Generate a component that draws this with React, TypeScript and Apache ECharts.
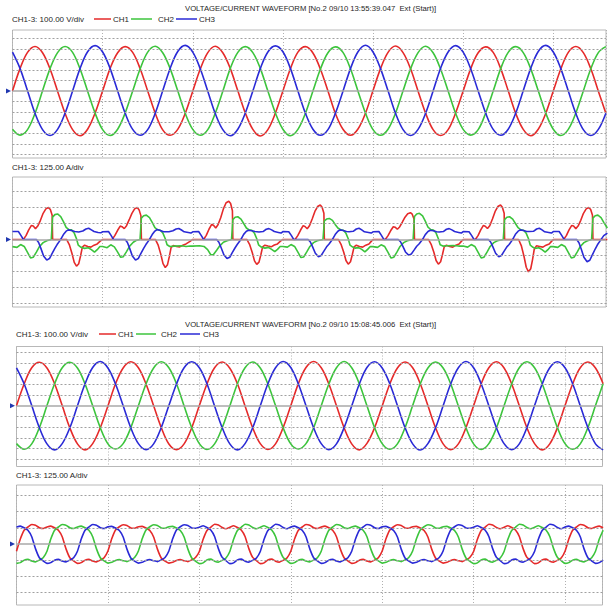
import React, { useEffect, useRef } from "react";
import * as echarts from "echarts";

// ---------- text ----------
const TITLE_1 = "VOLTAGE/CURRENT WAVEFORM [No.2 09/10 13:55:39.047  Ext (Start)]";
const TITLE_2 = "VOLTAGE/CURRENT WAVEFORM [No.2 09/10 15:08:45.006  Ext (Start)]";
const V_LABEL = "CH1-3: 100.00 V/div";
const A_LABEL = "CH1-3: 125.00 A/div";
const CHANNELS = ["CH1", "CH2", "CH3"];
const COLORS = ["#e52a2a", "#3cc43c", "#2a2ad6"];

// ---------- scales ----------
const V_DIV = 100; // V per division
const A_DIV = 125; // A per division
const MS_DIV = 20; // ms per division
const P1_MAX_MS = 131.7;
const P3_MAX_MS = 128.2;
const V_STEP = 20 / 12; // voltage samples every 1.667 ms
const I4_STEP = 20 / 24; // record 2 current samples every 0.833 ms

// ---------- record 1 voltage (V) ----------
const p1Ch1 = [
  0, 212, 366, 422, 362, 208, -2, -212, -366, -424, -362, -208,
  2, 214, 362, 420, 366, 210, 0, -210, -368, -420, -364, -212,
  -2, 208, 364, 424, 362, 212, 2, -208, -364, -426, -366, -210,
  0, 210, 368, 420, 360, 206, 0, -214, -362, -420, -360, -210,
  4, 212, 366, 426, 364, 210, -2, -210, -366, -422, -366, -208,
  0, 210, 362, 418, 366, 212, 2, -212, -364, -424, -362, -212,
  0, 208, 366, 422, 364, 210, -2, -210,
];
const p1Ch2 = [
  -362, -418, -366, -212, 2, 212, 364, 422, 366, 208, -2, -210,
  -366, -422, -362, -208, 0, 210, 368, 424, 362, 210, 2, -212,
  -364, -420, -366, -210, -2, 214, 366, 420, 364, 212, 0, -208,
  -362, -424, -364, -212, 0, 208, 362, 418, 366, 210, -2, -210,
  -366, -420, -362, -210, 2, 210, 364, 424, 362, 206, 0, -212,
  -364, -418, -366, -208, 0, 212, 366, 420, 364, 210, 2, -210,
  -362, -422, -364, -210, 0, 210, 364, 420,
];
const p1Ch3 = [
  368, 214, 2, -212, -366, -422, -364, -210, 0, 214, 372, 430,
  370, 212, 0, -210, -364, -420, -366, -212, 2, 216, 374, 432,
  368, 210, -2, -214, -366, -424, -362, -208, 0, 214, 370, 428,
  372, 214, 0, -210, -362, -420, -366, -210, -2, 212, 372, 434,
  370, 212, 2, -212, -366, -422, -364, -212, 0, 216, 370, 430,
  368, 210, 0, -210, -364, -420, -362, -210, 2, 214, 374, 432,
  370, 212, 0, -212, -366, -422, -364, -210,
];

// ---------- record 1 current (ms, A) ----------
const p2Ch1 = [
  [0, 0], [2.4, 0], [3.0, 30], [3.6, 75], [4.2, 110], [4.6, 105], [5.1, 85], [5.6, 105], [6.2, 150], [6.8, 205], [7.4, 240], [8.0, 250], [8.4, 235], [8.8, 190], [8.9, 0], [12.0, 0], [12.6, -40], [13.2, -110], [13.7, -180], [14.2, -210], [14.7, -190], [15.1, -130], [15.5, -60], [16.0, -45], [16.7, -55], [17.4, -60], [18.1, -45], [18.8, -35], [19.4, -15],
  [20, 0], [22.1, 0], [22.7, 30], [23.3, 70], [23.9, 105], [24.3, 100], [24.8, 85], [25.3, 108], [25.9, 155], [26.5, 205], [27.1, 240], [27.7, 250], [28.1, 232], [28.5, 185], [28.6, 0], [31.7, 0], [32.3, -42], [32.9, -115], [33.4, -190], [33.9, -220], [34.4, -198], [34.8, -135], [35.2, -62], [35.7, -48], [36.4, -55], [37.1, -58], [37.8, -45], [38.5, -35], [39.4, -15],
  [40, 0], [42.4, 0], [43.0, 32], [43.6, 80], [44.2, 118], [44.6, 112], [45.1, 90], [45.6, 115], [46.2, 170], [46.8, 240], [47.4, 288], [48.0, 300], [48.4, 282], [48.8, 225], [48.9, 0], [52.0, 0], [52.6, -38], [53.2, -102], [53.7, -168], [54.2, -196], [54.7, -178], [55.1, -122], [55.5, -58], [56.0, -45], [56.7, -52], [57.4, -58], [58.1, -44], [58.8, -35], [59.4, -15],
  [60, 0], [62.7, 0], [63.3, 30], [63.9, 72], [64.5, 108], [64.9, 102], [65.4, 84], [65.9, 108], [66.5, 160], [67.1, 220], [67.7, 258], [68.3, 270], [68.7, 252], [69.1, 205], [69.2, 0], [72.3, 0], [72.9, -38], [73.5, -100], [74.0, -165], [74.5, -194], [75.0, -175], [75.4, -120], [75.8, -58], [76.3, -45], [77.0, -55], [77.7, -60], [78.4, -45], [79.1, -35], [79.6, -15],
  [80, 0], [82.7, 0], [83.3, 28], [83.9, 68], [84.5, 100], [84.9, 96], [85.4, 80], [85.9, 98], [86.5, 135], [87.1, 175], [87.7, 202], [88.3, 210], [88.7, 198], [89.1, 160], [89.2, 0], [92.3, 0], [92.9, -38], [93.5, -100], [94.0, -165], [94.5, -194], [95.0, -175], [95.4, -120], [95.8, -58], [96.3, -45], [97.0, -55], [97.7, -60], [98.4, -45], [99.1, -35], [99.6, -15],
  [100, 0], [102.7, 0], [103.3, 30], [103.9, 75], [104.5, 110], [104.9, 104], [105.4, 86], [105.9, 108], [106.5, 160], [107.1, 220], [107.7, 258], [108.3, 270], [108.7, 252], [109.1, 205], [109.2, 0], [112.3, 0], [112.9, -48], [113.5, -132], [114.0, -218], [114.5, -254], [115.0, -230], [115.4, -158], [115.8, -72], [116.3, -50], [117.0, -55], [117.7, -60], [118.4, -45], [119.1, -35], [119.6, -15],
  [120, 0], [122.3, 0], [122.9, 30], [123.5, 75], [124.1, 110], [124.5, 105], [125.0, 85], [125.5, 105], [126.1, 150], [126.7, 205], [127.3, 240], [127.9, 250], [128.3, 235], [128.7, 190], [128.8, 0], [132, 0],
];
const p2Ch2 = [
  [0, -56], [1.0, -62], [1.8, -40], [2.6, -55], [3.3, -100], [4.0, -145], [4.6, -140], [5.3, -100], [6.0, -55], [6.8, -25], [7.6, -10], [8.6, 0], [8.9, 175], [9.4, 195], [10.0, 200], [10.7, 180], [11.3, 140], [11.9, 95], [12.5, 78], [13.1, 75], [13.7, 50], [14.2, 6], [14.6, -45], [15.2, -62], [16, -70], [16.8, -65], [17.5, -80], [18.2, -100], [18.8, -80], [19.4, -55],
  [20, -55], [21.0, -65], [21.8, -42], [22.6, -58], [23.3, -98], [24.0, -140], [24.6, -135], [25.3, -95], [26.0, -52], [26.8, -22], [27.4, -8], [28.3, 0], [28.6, 167], [29.1, 186], [29.7, 191], [30.4, 172], [31.0, 134], [31.6, 92], [32.2, 76], [32.8, 72], [33.4, 48], [33.9, 5], [34.3, -42], [34.9, -55], [36, -52], [37.5, -50], [38.5, -55], [39.4, -52],
  [40, -52], [41.5, -50], [42.5, -55], [43.3, -80], [44.0, -120], [44.6, -118], [45.3, -85], [46.0, -50], [46.8, -22], [47.6, -10], [48.6, 0], [48.9, 156], [49.4, 174], [50.0, 178], [50.7, 160], [51.3, 125], [51.9, 90], [52.5, 75], [53.1, 72], [53.7, 48], [54.2, 6], [54.6, -42], [55.2, -60], [56, -68], [56.8, -62], [57.5, -78], [58.2, -96], [58.8, -78], [59.4, -55],
  [60, -55], [61.0, -60], [61.8, -40], [62.6, -55], [63.3, -98], [64.0, -142], [64.6, -138], [65.3, -98], [66.0, -55], [66.8, -25], [67.6, -10], [68.9, 0], [69.2, 145], [69.7, 160], [70.3, 165], [71.0, 150], [71.6, 118], [72.2, 90], [72.8, 76], [73.4, 72], [74.0, 48], [74.5, 6], [74.9, -45], [75.5, -60], [76, -68], [76.8, -64], [77.5, -78], [78.2, -98], [78.8, -78], [79.4, -55],
  [80, -56], [81.0, -62], [81.8, -42], [82.6, -56], [83.3, -100], [84.0, -146], [84.6, -140], [85.3, -100], [86.0, -55], [86.8, -25], [87.6, -10], [88.9, 0], [89.2, 180], [89.7, 200], [90.3, 205], [91.0, 185], [91.6, 144], [92.2, 96], [92.8, 78], [93.4, 74], [94.0, 50], [94.5, 6], [94.9, -42], [95.5, -52], [96.5, -50], [97.8, -48], [99, -52],
  [100, -52], [101.0, -60], [101.8, -40], [102.6, -55], [103.3, -100], [104.0, -145], [104.6, -140], [105.3, -100], [106.0, -55], [106.8, -25], [107.6, -10], [108.9, 0], [109.2, 156], [109.7, 174], [110.3, 178], [111.0, 160], [111.6, 125], [112.2, 92], [112.8, 76], [113.4, 72], [114.0, 48], [114.5, 6], [114.9, -45], [115.5, -62], [116, -70], [116.8, -65], [117.5, -80], [118.2, -100], [118.8, -80], [119.4, -55],
  [120, -56], [121.0, -62], [121.8, -40], [122.6, -55], [123.3, -100], [124.0, -145], [124.6, -140], [125.3, -100], [126.0, -55], [126.8, -25], [127.6, -10], [128.5, 0], [128.8, 167], [129.3, 186], [129.9, 191], [130.6, 172], [131.2, 134], [132, 90],
];
const p2Ch3 = [
  [0, 62], [1.3, 62], [1.9, 30], [2.4, 0], [5.3, 0], [5.8, -24], [6.3, -70], [6.9, -130], [7.6, -162], [8.2, -150], [8.8, -110], [9.4, -70], [9.9, -40], [10.6, -5], [11.3, 38], [11.9, 65], [12.4, 75], [13.1, 70], [13.8, 62], [14.7, 58], [15.6, 66], [16.3, 82], [16.9, 88], [17.5, 75], [18.1, 62], [19.0, 55], [19.6, 52],
  [20, 60], [21.3, 62], [21.9, 30], [22.4, 0], [25.0, 0], [25.5, -24], [26.0, -70], [26.6, -130], [27.3, -162], [27.9, -150], [28.5, -110], [29.1, -70], [29.6, -40], [30.3, -5], [31.0, 38], [31.6, 66], [32.1, 78], [32.8, 70], [33.5, 60], [34.7, 60], [35.6, 68], [36.3, 82], [36.9, 86], [37.5, 74], [38.1, 60], [39.0, 55], [39.6, 50],
  [40, 60], [41.3, 62], [41.9, 30], [42.4, 0], [45.3, 0], [45.8, -22], [46.3, -65], [46.9, -120], [47.6, -150], [48.2, -140], [48.8, -102], [49.4, -65], [49.9, -38], [50.6, -5], [51.3, 40], [51.9, 64], [52.4, 72], [53.1, 68], [53.8, 62], [54.7, 58], [55.6, 62], [56.3, 80], [56.9, 85], [57.5, 75], [58.1, 62], [59.0, 55], [59.6, 50],
  [60, 62], [61.3, 60], [61.9, 30], [62.4, 0], [65.6, 0], [66.1, -20], [66.6, -58], [67.2, -108], [67.9, -136], [68.5, -126], [69.1, -92], [69.7, -58], [70.2, -38], [70.9, -5], [71.6, 38], [72.2, 64], [72.7, 75], [73.4, 70], [74.1, 62], [74.7, 60], [75.6, 64], [76.3, 82], [76.9, 88], [77.5, 75], [78.1, 60], [79.0, 55], [79.6, 50],
  [80, 60], [81.3, 62], [81.9, 30], [82.4, 0], [85.6, 0], [86.1, -18], [86.6, -53], [87.2, -98], [87.9, -123], [88.5, -114], [89.1, -84], [89.7, -53], [90.2, -36], [90.9, -5], [91.6, 38], [92.2, 62], [92.7, 72], [93.4, 68], [94.1, 60], [94.7, 58], [95.6, 62], [96.3, 80], [96.9, 85], [97.5, 75], [98.1, 62], [99.0, 55], [99.6, 50],
  [100, 62], [101.3, 60], [101.9, 30], [102.4, 0], [105.6, 0], [106.1, -20], [106.6, -58], [107.2, -108], [107.9, -136], [108.5, -126], [109.1, -92], [109.7, -58], [110.2, -40], [110.9, -5], [111.6, 40], [112.2, 65], [112.7, 75], [113.4, 70], [114.1, 62], [114.7, 62], [115.6, 64], [116.3, 82], [116.9, 88], [117.5, 75], [118.1, 60], [119.0, 55], [119.6, 50],
  [120, 62], [121.3, 62], [121.9, 30], [122.4, 0], [125.2, 0], [125.7, -26], [126.2, -75], [126.8, -140], [127.5, -175], [128.1, -163], [128.7, -119], [129.3, -75], [129.8, -42], [130.5, -5], [131.2, 30], [132, 50],
];

// ---------- record 2 voltage (V) ----------
const p3Ch1 = [
  0, 204, 356, 408, 354, 206, 2, -206, -356, -412, -354, -204,
  -2, 206, 354, 412, 356, 204, 0, -204, -358, -410, -356, -206,
  2, 204, 356, 410, 352, 206, -2, -206, -354, -408, -356, -204,
  0, 208, 358, 414, 356, 204, 0, -206, -356, -412, -352, -206,
  -2, 204, 354, 410, 356, 206, 2, -204, -356, -410, -356, -204,
  0, 206, 356, 412, 354, 204, 0, -206, -354, -412, -356, -206,
  2, 204, 356, 410, 354, 206,
];
const p3Ch2 = [
  -354, -406, -356, -204, 2, 206, 356, 408, 354, 204, 0, -206,
  -356, -404, -354, -206, 0, 204, 354, 412, 356, 206, -2, -204,
  -354, -408, -356, -204, -2, 206, 356, 410, 354, 204, 2, -206,
  -356, -404, -354, -206, 0, 204, 356, 414, 356, 206, 0, -204,
  -354, -406, -356, -204, 2, 206, 354, 410, 354, 204, -2, -206,
  -356, -408, -354, -206, 0, 204, 356, 412, 356, 206, 0, -204,
  -354, -406, -356, -204, 2, 206,
];
const p3Ch3 = [
  356, 206, 2, -204, -356, -412, -354, -206, 0, 206, 358, 414,
  354, 204, 0, -206, -354, -410, -356, -204, 2, 204, 356, 412,
  356, 206, -2, -204, -356, -412, -354, -206, 0, 206, 356, 414,
  358, 204, 0, -206, -354, -410, -356, -204, -2, 204, 358, 412,
  354, 206, 2, -204, -356, -414, -354, -206, 0, 206, 356, 414,
  356, 204, 0, -206, -354, -410, -356, -204, 2, 204, 356, 412,
  356, 206, 0, -204, -356, -412,
];

// ---------- record 2 current (A) ----------
const p4Ch1 = [
  -56, 38, 106, 131, 150, 144, 125, 119, 131, 138, 125, 106, 56, -38, -106, -131, -150, -144, -125, -119, -131, -138, -125, -106,
  -54, 40, 108, 133, 148, 142, 123, 121, 133, 136, 123, 104, 54, -40, -108, -133, -148, -142, -127, -121, -129, -136, -123, -104,
  -58, 36, 104, 129, 152, 146, 127, 117, 129, 140, 127, 108, 58, -36, -104, -129, -152, -146, -123, -117, -133, -140, -127, -108,
  -56, 38, 106, 131, 150, 144, 125, 119, 131, 138, 125, 106, 56, -38, -106, -131, -150, -144, -125, -119, -131, -138, -125, -106,
  -54, 40, 108, 133, 148, 142, 123, 121, 133, 136, 123, 104, 54, -40, -108, -133, -148, -142, -127, -121, -129, -136, -123, -104,
  -58, 36, 104, 129, 152, 146, 127, 117, 129, 140, 127, 108, 58, -36, -104, -129, -152, -146, -123, -117, -133, -140, -127, -108,
  -56, 38, 106, 131, 150, 144, 125, 119, 131, 138, 125,
];
const p4Ch2 = [
  -150, -144, -125, -119, -131, -138, -125, -106, -56, 38, 106, 131, 150, 144, 125, 119, 131, 138, 125, 106, 56, -38, -106, -131,
  -148, -142, -127, -121, -129, -136, -123, -104, -54, 40, 108, 133, 148, 142, 123, 121, 133, 136, 123, 104, 54, -40, -108, -133,
  -152, -146, -123, -117, -133, -140, -127, -108, -58, 36, 104, 129, 152, 146, 127, 117, 129, 140, 127, 108, 58, -36, -104, -129,
  -150, -144, -125, -119, -131, -138, -125, -106, -56, 38, 106, 131, 150, 144, 125, 119, 131, 138, 125, 106, 56, -38, -106, -131,
  -148, -142, -127, -121, -129, -136, -123, -104, -54, 40, 108, 133, 148, 142, 123, 121, 133, 136, 123, 104, 54, -40, -108, -133,
  -152, -146, -123, -117, -133, -140, -127, -108, -58, 36, 104, 129, 152, 146, 127, 117, 129, 140, 127, 108, 58, -36, -104, -129,
  -150, -144, -125, -119, -131, -138, -125, -106, -56, 38, 106,
];
const p4Ch3 = [
  131, 138, 125, 106, 56, -38, -106, -131, -150, -144, -125, -119, -131, -138, -125, -106, -56, 38, 106, 131, 150, 144, 125, 119,
  133, 136, 123, 104, 54, -40, -108, -133, -148, -142, -127, -121, -129, -136, -123, -104, -54, 40, 108, 133, 148, 142, 123, 121,
  129, 140, 127, 108, 58, -36, -104, -129, -152, -146, -123, -117, -133, -140, -127, -108, -58, 36, 104, 129, 152, 146, 127, 117,
  131, 138, 125, 106, 56, -38, -106, -131, -150, -144, -125, -119, -131, -138, -125, -106, -56, 38, 106, 131, 150, 144, 125, 119,
  133, 136, 123, 104, 54, -40, -108, -133, -148, -142, -127, -121, -129, -136, -123, -104, -54, 40, 108, 133, 148, 142, 123, 121,
  129, 140, 127, 108, 58, -36, -104, -129, -152, -146, -123, -117, -133, -140, -127, -108, -58, 36, 104, 129, 152, 146, 127, 117,
  131, 138, 125, 106, 56, -38, -106, -131, -150, -144, -125,
];

// ---------- panel layout ----------
const PANELS = [
  { left: 12.5, top: 30, width: 593.5, height: 128, xMax: P1_MAX_MS, yMin: -635, yMax: 578, div: V_DIV },
  { left: 12.5, top: 177, width: 593.5, height: 130, xMax: P1_MAX_MS, yMin: -530, yMax: 490, div: A_DIV },
  { left: 16.5, top: 346.5, width: 586, height: 120, xMax: P3_MAX_MS, yMin: -568, yMax: 555, div: V_DIV },
  { left: 16.5, top: 485, width: 586, height: 120, xMax: P3_MAX_MS, yMin: -471, yMax: 455, div: A_DIV },
];

const FONT = "'Liberation Sans', Arial, sans-serif";
const TEXT_COLOR = "#262626";

function sampled(vals: number[], step: number) {
  return vals.map((v, i) => [i * step, v]);
}

function gridTicks(min: number, max: number, div: number) {
  const out: number[] = [];
  for (let k = Math.ceil(min / div); k * div <= max; k++) {
    if (k !== 0) out.push(k * div);
  }
  return out;
}

function legendGraphics(y: number, pos: number[][]) {
  const els: any[] = [];
  CHANNELS.forEach((name, i) => {
    const [l1, l2, tx] = pos[i];
    els.push({
      type: "line",
      shape: { x1: l1, y1: y, x2: l2, y2: y },
      style: { stroke: COLORS[i], lineWidth: 1.5 },
    });
    els.push({
      type: "text",
      x: tx,
      y,
      style: { text: name, fill: TEXT_COLOR, fontSize: 8, fontFamily: FONT, textVerticalAlign: "middle" },
    });
  });
  return els;
}

function textEl(text: string, x: number, y: number, size: number) {
  return {
    type: "text",
    x,
    y,
    style: { text, fill: TEXT_COLOR, fontSize: size, fontFamily: FONT, textVerticalAlign: "middle" },
  };
}

export default function App() {
  const ref = useRef<HTMLDivElement>(null);

  useEffect(() => {
    if (!ref.current) return;
    const chart = echarts.init(ref.current, undefined, { renderer: "svg" });

    const panelData = [
      [sampled(p1Ch1, V_STEP), sampled(p1Ch2, V_STEP), sampled(p1Ch3, V_STEP)],
      [p2Ch1, p2Ch2, p2Ch3],
      [sampled(p3Ch1, V_STEP), sampled(p3Ch2, V_STEP), sampled(p3Ch3, V_STEP)],
      [sampled(p4Ch1, I4_STEP), sampled(p4Ch2, I4_STEP), sampled(p4Ch3, I4_STEP)],
    ];
    const smoothness = [0.35, false, 0.35, 0.15];

    const grid = PANELS.map((p) => ({
      left: p.left,
      top: p.top,
      width: p.width,
      height: p.height,
      show: true,
      backgroundColor: "#ffffff",
      borderColor: "#b8b8b8",
      borderWidth: 1,
    }));

    const xAxis = PANELS.map((p, i) => ({
      type: "value",
      gridIndex: i,
      min: 0,
      max: p.xMax,
      interval: MS_DIV,
      axisLine: { show: false },
      axisTick: { show: false },
      axisLabel: { show: false },
      splitLine: { show: true, lineStyle: { color: "#b0b0b0", width: 1, type: [1, 2] } },
    }));

    const yAxis = PANELS.map((p, i) => ({
      type: "value",
      gridIndex: i,
      min: p.yMin,
      max: p.yMax,
      axisLine: { show: false },
      axisTick: { show: false },
      axisLabel: { show: false },
      splitLine: { show: false },
    }));

    const series: any[] = [];
    PANELS.forEach((p, i) => {
      series.push({
        type: "line",
        name: "grid" + i,
        xAxisIndex: i,
        yAxisIndex: i,
        data: [],
        silent: true,
        z: 1,
        markLine: {
          silent: true,
          symbol: "none",
          label: { show: false },
          animation: false,
          data: [
            ...gridTicks(p.yMin, p.yMax, p.div).map((v) => ({
              yAxis: v,
              lineStyle: { color: "#a0a0a0", width: 1, type: [2, 2] },
            })),
            { yAxis: 0, lineStyle: { color: "#a8a8a8", width: 1.6, type: "solid" } },
          ],
        },
        markPoint: {
          silent: true,
          animation: false,
          symbol: "triangle",
          symbolSize: [5, 5],
          symbolRotate: -90,
          symbolOffset: [-4, 0],
          label: { show: false },
          itemStyle: { color: "#2038b0" },
          data: [{ coord: [0, 0] }],
        },
      });
      panelData[i].forEach((d, c) => {
        series.push({
          type: "line",
          name: CHANNELS[c],
          xAxisIndex: i,
          yAxisIndex: i,
          data: d,
          showSymbol: false,
          symbol: "none",
          smooth: smoothness[i],
          z: 3,
          lineStyle: { color: COLORS[c], width: 1.6 },
          itemStyle: { color: COLORS[c] },
        });
      });
    });

    const graphic = [
      textEl(TITLE_1, 185, 8.5, 7.7),
      textEl(V_LABEL, 12, 19, 8),
      ...legendGraphics(19, [
        [94, 111, 113],
        [131, 152, 158],
        [176, 197, 199],
      ]),
      textEl(A_LABEL, 12, 167, 8),
      textEl(TITLE_2, 185, 324, 7.7),
      textEl(V_LABEL, 16, 334, 8),
      ...legendGraphics(334, [
        [99, 116, 118],
        [136, 156, 161],
        [180, 200, 203],
      ]),
      textEl(A_LABEL, 16, 475, 8),
    ];

    chart.setOption({
      animation: false,
      backgroundColor: "#ffffff",
      grid,
      xAxis,
      yAxis,
      series,
      graphic,
    });

    return () => chart.dispose();
  }, []);

  return (
    <div
      ref={ref}
      style={{ position: "fixed", left: 0, top: 0, width: 613, height: 607, background: "#fff" }}
    />
  );
}
